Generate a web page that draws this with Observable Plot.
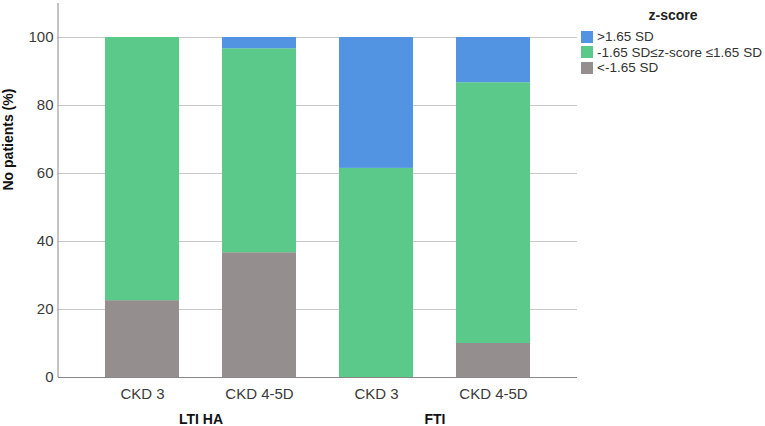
<!DOCTYPE html>
<html>
<head>
<meta charset="utf-8">
<script src="https://cdn.jsdelivr.net/npm/d3@7"></script>
<script src="https://cdn.jsdelivr.net/npm/@observablehq/plot@0.6"></script>
<style>
  body { margin: 0; background: #fff; font-family: "Liberation Sans", Arial, sans-serif; }
  #wrap { position: relative; width: 765px; height: 426px; overflow: hidden; }
  #legend { position: absolute; left: 581px; top: 7px; width: 184px; font-size: 13.5px; color: #333; white-space: nowrap; }
  #legend .title { font-weight: bold; text-align: center; margin-left: 66px; width: 52px; height: 22px; line-height: 16px; font-size: 14px; color: #222; }
  #legend .item { display: flex; align-items: center; height: 15.5px; white-space: nowrap; }
  #legend .sw { width: 12px; height: 12px; margin-right: 4px; flex: none; }
</style>
</head>
<body>
<div id="wrap"></div>
<script>
const groups = ["LTI HA", "LTI HA", "FTI", "FTI"];
const stages = ["CKD 3", "CKD 4-5D", "CKD 3", "CKD 4-5D"];
const seriesNames = ["<-1.65 SD", "-1.65 SD≤z-score ≤1.65 SD", ">1.65 SD"];
const lowValues = [22.6, 36.7, 0, 10];
const midValues = [77.4, 60, 61.5, 76.7];
const highValues = [0, 3.3, 38.5, 13.3];
const seriesColors = ["#948f8e", "#5bc98a", "#5294e2"];
const yTicks = [0, 20, 40, 60, 80, 100];

const keys = groups.map((g, i) => g + "|" + stages[i]);
const seriesValues = [lowValues, midValues, highValues];
const rows = [];
seriesNames.forEach((s, si) => {
  keys.forEach((k, i) => rows.push({key: k, series: s, value: seriesValues[si][i]}));
});
const groupRows = [];
keys.forEach((k, i) => { if (i === 0 || groups[i] !== groups[i - 1]) groupRows.push({key: k, label: groups[i]}); });

const yAxisLine = (index, scales, values, dimensions) => {
  const x = dimensions.marginLeft;
  return d3.create("svg:line")
    .attr("x1", x).attr("x2", x)
    .attr("y1", dimensions.marginTop).attr("y2", dimensions.height - dimensions.marginBottom)
    .attr("stroke", "#888").node();
};

const chart = Plot.plot({
  width: 765,
  height: 426,
  marginLeft: 58,
  marginRight: 188,
  marginTop: 3,
  marginBottom: 49,
  style: {fontFamily: "Liberation Sans, Arial, sans-serif", fontSize: "15px", color: "#333"},
  x: {domain: keys, paddingInner: 0.37, paddingOuter: 0.4, label: null},
  y: {domain: [0, 110], label: null},
  color: {domain: seriesNames, range: seriesColors},
  marks: [
    Plot.gridY(yTicks.filter(d => d > 0), {stroke: "#c8c8c8", strokeOpacity: 1, strokeWidth: 1}),
    Plot.barY(rows, Plot.stackY({order: seriesNames}, {x: "key", y: "value", fill: "series", inset: 0})),
    yAxisLine,
    Plot.ruleY([0], {stroke: "#888"}),
    Plot.axisX({tickSize: 0, tickPadding: 11, tickFormat: d => d.split("|")[1], fill: "#3a3a3a", fontSize: 15, label: null}),
    Plot.axisY(yTicks, {tickSize: 0, tickPadding: 5, fill: "#3a3a3a", fontSize: 15, label: null}),
    Plot.text(groupRows, {x: "key", text: "label", frameAnchor: "bottom", dx: 58.5, dy: 46, fontWeight: "bold", fontSize: 14, fill: "#111"}),
    Plot.text(["No patients (%)"], {frameAnchor: "left", rotate: -90, dx: -50, fontWeight: "bold", fontSize: 14, fill: "#111"})
  ]
});
document.getElementById("wrap").appendChild(chart);

const legend = document.createElement("div");
legend.id = "legend";
const title = document.createElement("div");
title.className = "title";
title.textContent = "z-score";
legend.appendChild(title);
[2, 1, 0].forEach(i => {
  const item = document.createElement("div");
  item.className = "item";
  const sw = document.createElement("div");
  sw.className = "sw";
  sw.style.background = seriesColors[i];
  const t = document.createElement("span");
  t.textContent = seriesNames[i];
  item.appendChild(sw);
  item.appendChild(t);
  legend.appendChild(item);
});
document.getElementById("wrap").appendChild(legend);
</script>
</body>
</html>
